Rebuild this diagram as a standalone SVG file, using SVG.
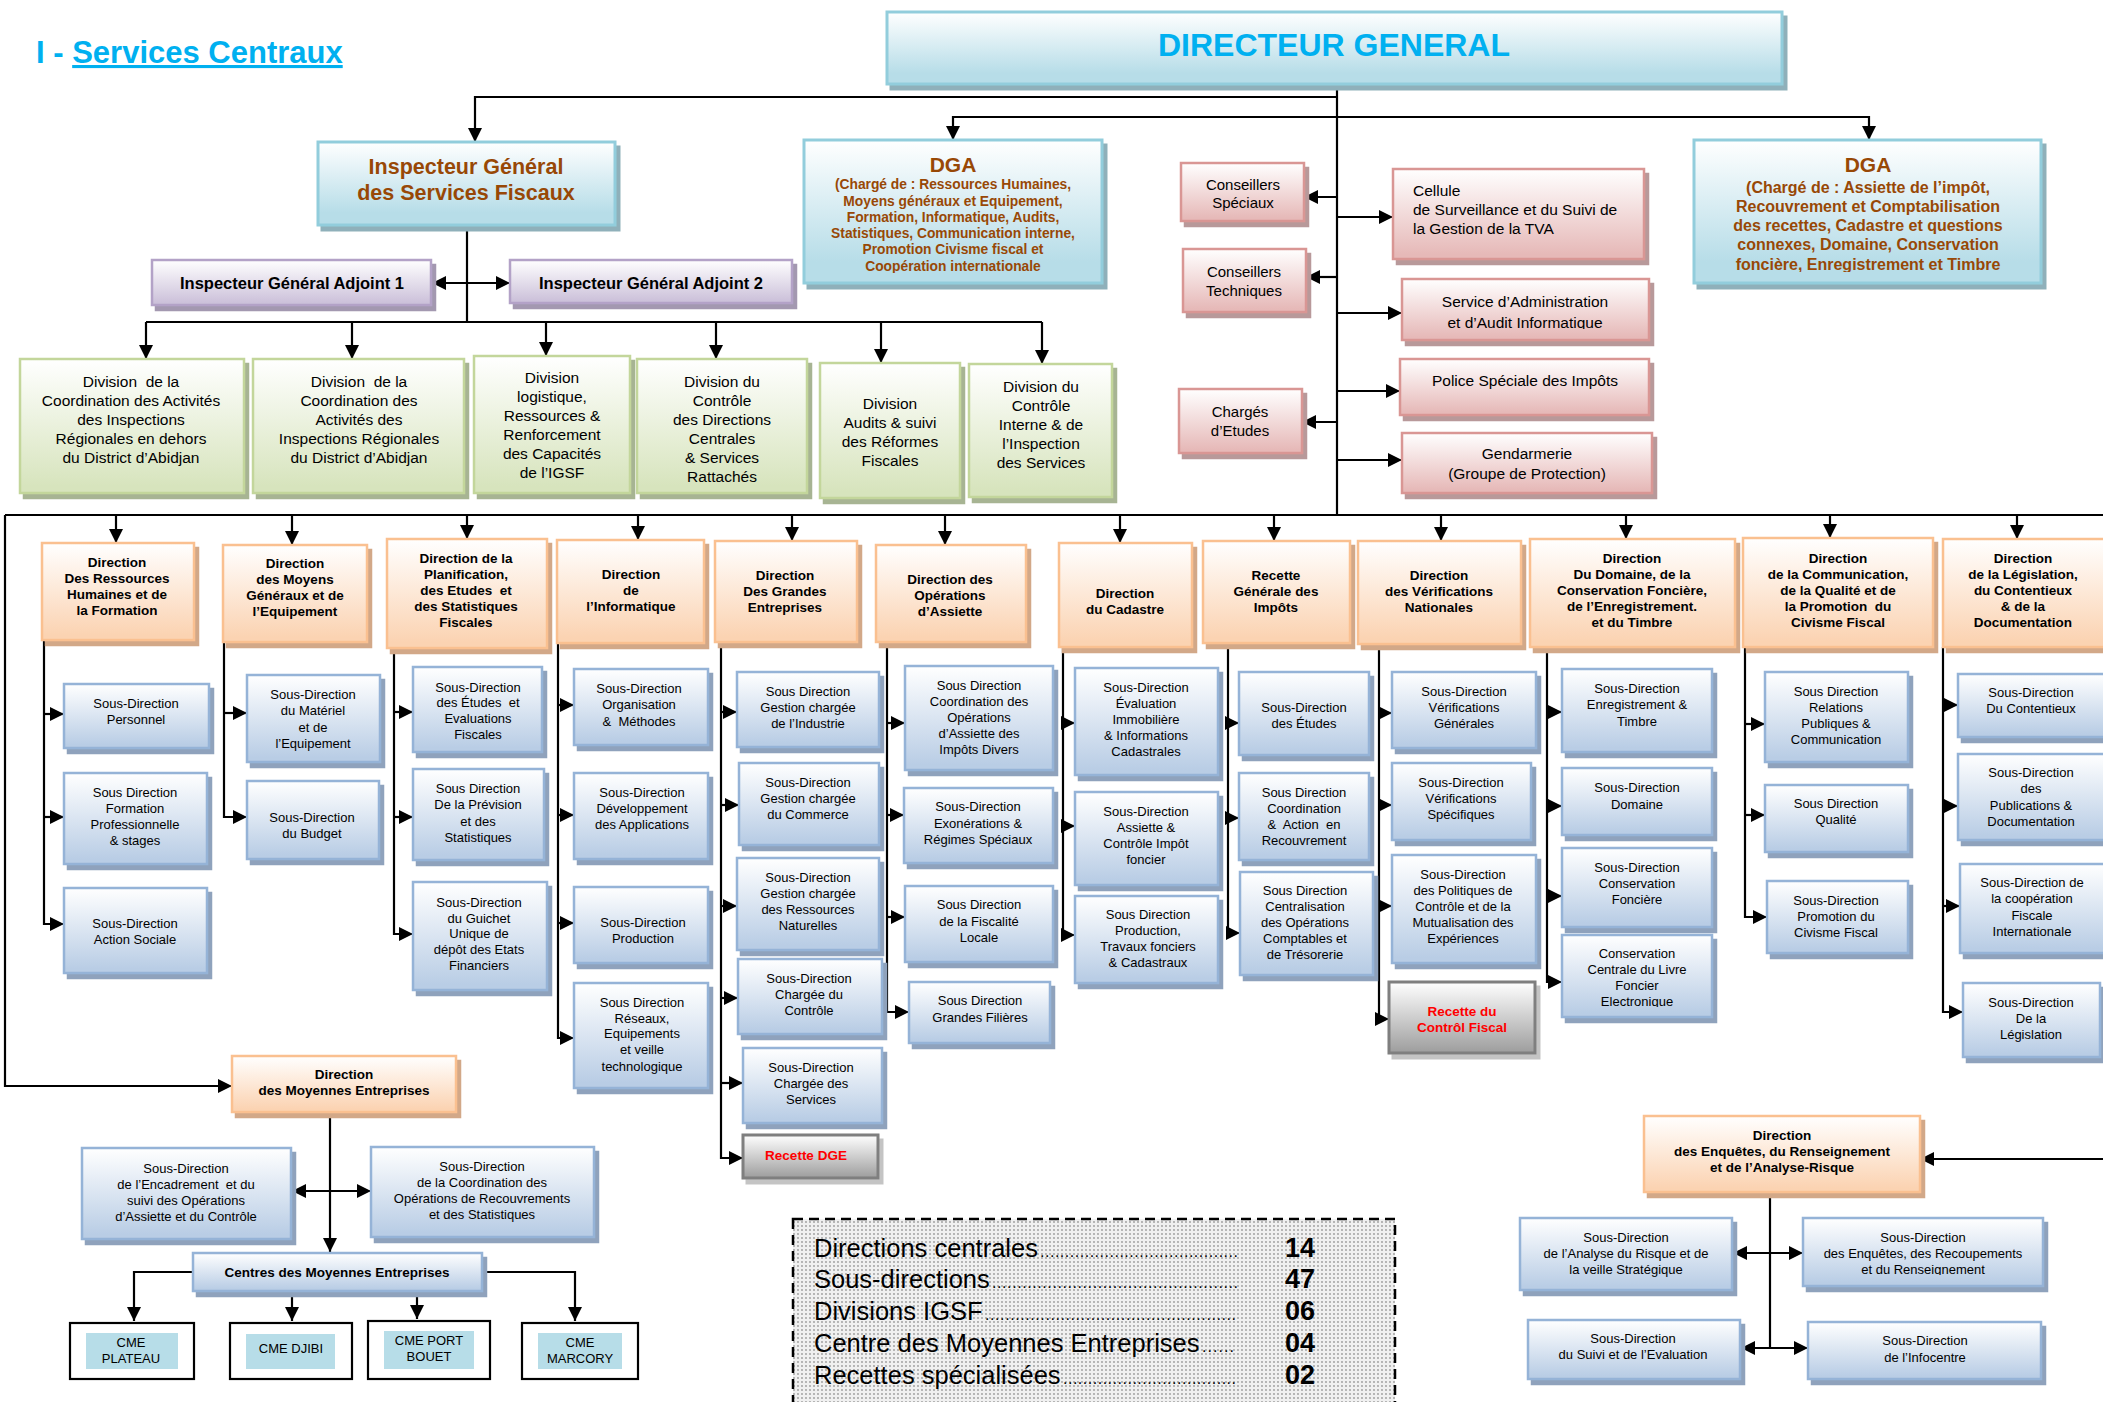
<svg xmlns="http://www.w3.org/2000/svg" width="2103" height="1402" viewBox="0 0 2103 1402">
<defs>
<linearGradient id="gB" x1="0" y1="0" x2="0" y2="1"><stop offset="0" stop-color="#ffffff"/><stop offset="0.95" stop-color="#b9cde5"/></linearGradient>
<linearGradient id="gO" x1="0" y1="0" x2="0" y2="1"><stop offset="0" stop-color="#ffffff"/><stop offset="0.95" stop-color="#fbd3b2"/></linearGradient>
<linearGradient id="gG" x1="0" y1="0" x2="0" y2="1"><stop offset="0" stop-color="#ffffff"/><stop offset="0.95" stop-color="#d7e4bd"/></linearGradient>
<linearGradient id="gP" x1="0" y1="0" x2="0" y2="1"><stop offset="0" stop-color="#ffffff"/><stop offset="0.95" stop-color="#e6b9b8"/></linearGradient>
<linearGradient id="gC" x1="0" y1="0" x2="0" y2="1"><stop offset="0" stop-color="#ffffff"/><stop offset="0.85" stop-color="#b7dde8"/></linearGradient>
<linearGradient id="gV" x1="0" y1="0" x2="0" y2="1"><stop offset="0" stop-color="#ffffff"/><stop offset="0.95" stop-color="#ccc1da"/></linearGradient>
<linearGradient id="gR" x1="0" y1="0" x2="0" y2="1"><stop offset="0" stop-color="#ffffff"/><stop offset="1" stop-color="#9d9d9d"/></linearGradient>
<filter id="fB" x="-0.1" y="-0.2" width="1.3" height="1.5"><feDropShadow dx="4" dy="5" stdDeviation="0.5" flood-color="#8fa2bc"/></filter>
<filter id="fO" x="-0.1" y="-0.2" width="1.3" height="1.5"><feDropShadow dx="4" dy="5" stdDeviation="0.5" flood-color="#d2a888"/></filter>
<filter id="fG" x="-0.1" y="-0.2" width="1.3" height="1.5"><feDropShadow dx="4" dy="5" stdDeviation="0.5" flood-color="#a7b493"/></filter>
<filter id="fP" x="-0.1" y="-0.2" width="1.3" height="1.5"><feDropShadow dx="4" dy="5" stdDeviation="0.5" flood-color="#b8999a"/></filter>
<filter id="fC" x="-0.1" y="-0.2" width="1.3" height="1.5"><feDropShadow dx="4" dy="5" stdDeviation="0.5" flood-color="#8fb0ba"/></filter>
<filter id="fV" x="-0.1" y="-0.2" width="1.3" height="1.5"><feDropShadow dx="4" dy="5" stdDeviation="0.5" flood-color="#a398b0"/></filter>
<filter id="fR" x="-0.1" y="-0.2" width="1.3" height="1.5"><feDropShadow dx="4" dy="5" stdDeviation="0.5" flood-color="#c4c4c4"/></filter>
<marker id="ah" viewBox="0 0 10 10" refX="10" refY="5" markerWidth="14" markerHeight="14" markerUnits="userSpaceOnUse" orient="auto-start-reverse"><path d="M0,0 L10,5 L0,10 z" fill="#000"/></marker>
<pattern id="dots" width="4" height="4" patternUnits="userSpaceOnUse"><rect width="4" height="4" fill="#f0f0f0"/><circle cx="2" cy="2" r="0.9" fill="#9a9a9a"/></pattern>
<clipPath id="k1"><rect x="0" y="0" width="2103" height="273"/></clipPath>
<clipPath id="k2"><rect x="0" y="0" width="2103" height="272"/></clipPath>
<clipPath id="k3"><rect x="0" y="0" width="2103" height="329"/></clipPath>
<clipPath id="k4"><rect x="0" y="0" width="2103" height="1007"/></clipPath>
<clipPath id="k5"><rect x="0" y="0" width="2103" height="1275"/></clipPath>
</defs>
<style>
text{font-family:"Liberation Sans",Arial,Helvetica,sans-serif;fill:#000}
.m{text-anchor:middle}
.s13{font-size:13px}
.s15{font-size:15px}
.dv{font-size:15.5px}
.hb{font-size:13.5px;font-weight:bold}
.br{fill:#984806;font-weight:bold}
.red{fill:#ff0000;font-weight:bold;font-size:13.5px}
.c{fill:none;stroke:#000;stroke-width:2.2}
.a{marker-end:url(#ah)}
.d{marker-start:url(#ah);marker-end:url(#ah)}
.bB{fill:url(#gB);stroke:#95b3d7;stroke-width:2.5;filter:url(#fB)}
.bO{fill:url(#gO);stroke:#fac090;stroke-width:2.5;filter:url(#fO)}
.bG{fill:url(#gG);stroke:#c3d69b;stroke-width:2.5;filter:url(#fG)}
.bP{fill:url(#gP);stroke:#d99694;stroke-width:2.5;filter:url(#fP)}
.bC{fill:url(#gC);stroke:#92cddc;stroke-width:3;filter:url(#fC)}
.bV{fill:url(#gV);stroke:#b3a2c7;stroke-width:2.5;filter:url(#fV)}
.bR{fill:url(#gR);stroke:#7f7f7f;stroke-width:3;filter:url(#fR)}
.bK{fill:#ffffff;stroke:#000;stroke-width:2.2}
.in{fill:#b7dde8}
.sum{font-size:25.5px}
.num{font-size:27px;font-weight:bold}
</style>
<rect width="2103" height="1402" fill="#ffffff"/>

<g id="title"><text x="36" y="63" style="font-size:31px;font-weight:bold;fill:#00b0f0">I - <tspan style="text-decoration:underline;fill:#00b0f0">Services Centraux</tspan></text></g>

<g id="connectors">
<path class="c" d="M1337,84 V515"/>
<path class="c a" d="M1337,97 H475 V142"/>
<path class="c a" d="M1337,117 H953 V140"/>
<path class="c a" d="M1337,117 H1869 V140"/>
<path class="c" d="M467,229 V322"/>
<path class="c d" d="M432,283 H510"/>
<path class="c" d="M146,322 H1042"/>
<path class="c a" d="M146,322 V359"/>
<path class="c a" d="M352,322 V359"/>
<path class="c a" d="M546,322 V356"/>
<path class="c a" d="M716,322 V359"/>
<path class="c a" d="M881,322 V363"/>
<path class="c a" d="M1042,322 V364"/>
<path class="c a" d="M1337,197 H1304"/>
<path class="c a" d="M1337,277 H1306"/>
<path class="c a" d="M1337,422 H1302"/>
<path class="c a" d="M1337,217 H1393"/>
<path class="c a" d="M1337,313 H1402"/>
<path class="c a" d="M1337,391 H1400"/>
<path class="c a" d="M1337,460 H1402"/>
<path class="c" d="M5,515 H2103"/>
<path class="c a" d="M5,515 V1086 H232"/>
<path class="c a" d="M116,515 V543"/>
<path class="c a" d="M292,515 V545"/>
<path class="c a" d="M467,515 V539"/>
<path class="c a" d="M638,515 V540"/>
<path class="c a" d="M792,515 V541"/>
<path class="c a" d="M945,515 V545"/>
<path class="c a" d="M1120,515 V543"/>
<path class="c a" d="M1274,515 V541"/>
<path class="c a" d="M1441,515 V541"/>
<path class="c a" d="M1626,515 V539"/>
<path class="c a" d="M1830,515 V538"/>
<path class="c a" d="M2017,515 V539"/>
<path class="c a" d="M44,640 V924 H64"/>
<path class="c a" d="M44,714 H64"/>
<path class="c a" d="M44,817 H64"/>
<path class="c a" d="M224,642 V817 H247"/>
<path class="c a" d="M224,713 H247"/>
<path class="c a" d="M394,648 V934 H413"/>
<path class="c a" d="M394,712 H413"/>
<path class="c a" d="M394,817 H413"/>
<path class="c a" d="M558,643 V1038 H574"/>
<path class="c a" d="M558,705 H574"/>
<path class="c a" d="M558,815 H574"/>
<path class="c a" d="M558,923 H574"/>
<path class="c a" d="M721,642 V1158 H743"/>
<path class="c a" d="M721,712 H737"/>
<path class="c a" d="M721,805 H739"/>
<path class="c a" d="M721,906 H737"/>
<path class="c a" d="M721,998 H738"/>
<path class="c a" d="M721,1083 H743"/>
<path class="c a" d="M887,642 V1012 H909"/>
<path class="c a" d="M887,723 H905"/>
<path class="c a" d="M887,815 H904"/>
<path class="c a" d="M887,917 H905"/>
<path class="c a" d="M1063,647 V935 H1075"/>
<path class="c a" d="M1063,723 H1075"/>
<path class="c a" d="M1063,826 H1075"/>
<path class="c a" d="M1228,643 V933 H1240"/>
<path class="c a" d="M1228,723 H1239"/>
<path class="c a" d="M1228,818 H1239"/>
<path class="c a" d="M1379,644 V1019 H1389"/>
<path class="c a" d="M1379,713 H1392"/>
<path class="c a" d="M1379,805 H1392"/>
<path class="c a" d="M1379,906 H1392"/>
<path class="c a" d="M1547,647 V982 H1562"/>
<path class="c a" d="M1547,712 H1562"/>
<path class="c a" d="M1547,806 H1562"/>
<path class="c a" d="M1547,896 H1562"/>
<path class="c a" d="M1745,647 V917 H1767"/>
<path class="c a" d="M1745,724 H1765"/>
<path class="c a" d="M1745,815 H1765"/>
<path class="c a" d="M1943,647 V1012 H1963"/>
<path class="c a" d="M1943,705 H1958"/>
<path class="c a" d="M1943,806 H1958"/>
<path class="c a" d="M1943,906 H1960"/>
<path class="c a" d="M330,1112 V1252"/>
<path class="c d" d="M292,1191 H371"/>
<path class="c a" d="M193,1272 H134 V1321"/>
<path class="c a" d="M292,1291 V1321"/>
<path class="c a" d="M417,1291 V1319"/>
<path class="c a" d="M482,1272 H575 V1321"/>
<path class="c a" d="M2103,1159 H1920"/>
<path class="c" d="M1770,1192 V1348"/>
<path class="c d" d="M1733,1253 H1803"/>
<path class="c d" d="M1741,1348 H1808"/>
</g>

<g id="dg"><rect class="bC" x="887" y="12" width="895" height="72"/><text class="m" x="1334" y="56" style="font-size:32px;font-weight:bold;fill:#00b0f0">DIRECTEUR GENERAL</text></g>

<g id="igsf"><rect class="bC" x="318" y="142" width="297" height="83"/><text class="m br" style="font-size:21.5px"><tspan x="466" y="174">Inspecteur Général</tspan><tspan x="466" y="200">des Services Fiscaux</tspan></text></g>

<g id="iga1"><rect class="bV" x="152" y="260" width="279" height="45"/><text class="m" x="292" y="289" style="font-size:16.5px;font-weight:bold">Inspecteur Général Adjoint 1</text></g>
<g id="iga2"><rect class="bV" x="510" y="260" width="282" height="43"/><text class="m" x="651" y="289" style="font-size:16.5px;font-weight:bold">Inspecteur Général Adjoint 2</text></g>

<g id="dga1"><rect class="bC" x="804" y="140" width="298" height="143"/><text class="m br" x="953" y="172" style="font-size:21px">DGA</text><text class="m br" style="font-size:13.8px" clip-path="url(#k1)"><tspan x="953" y="189">(Chargé de : Ressources Humaines,</tspan><tspan x="953" y="206">Moyens généraux et Equipement,</tspan><tspan x="953" y="222">Formation, Informatique, Audits,</tspan><tspan x="953" y="238">Statistiques, Communication interne,</tspan><tspan x="953" y="254">Promotion Civisme fiscal et</tspan><tspan x="953" y="271">Coopération internationale</tspan></text></g>

<g id="dga2"><rect class="bC" x="1694" y="140" width="347" height="143"/><text class="m br" x="1868" y="172" style="font-size:21px">DGA</text><text class="m br" style="font-size:16px" clip-path="url(#k2)"><tspan x="1868" y="193">(Chargé de : Assiette de l’impôt,</tspan><tspan x="1868" y="212">Recouvrement et Comptabilisation</tspan><tspan x="1868" y="231">des recettes, Cadastre et questions</tspan><tspan x="1868" y="250">connexes, Domaine, Conservation</tspan><tspan x="1868" y="270">foncière, Enregistrement et Timbre</tspan></text></g>

<g id="cons-spec"><rect class="bP" x="1181" y="163" width="123" height="58"/><text class="m s15"><tspan x="1243" y="190">Conseillers</tspan><tspan x="1243" y="208">Spéciaux</tspan></text></g>
<g id="cons-tech"><rect class="bP" x="1183" y="249" width="123" height="63"/><text class="m s15"><tspan x="1244" y="277">Conseillers</tspan><tspan x="1244" y="296">Techniques</tspan></text></g>
<g id="charges"><rect class="bP" x="1179" y="389" width="123" height="64"/><text class="m s15"><tspan x="1240" y="417">Chargés</tspan><tspan x="1240" y="436">d’Etudes</tspan></text></g>
<g id="cellule"><rect class="bP" x="1393" y="169" width="251" height="90"/><text style="font-size:15.5px"><tspan x="1413" y="196">Cellule</tspan><tspan x="1413" y="215">de Surveillance et du Suivi de</tspan><tspan x="1413" y="234">la Gestion de la TVA</tspan></text></g>
<g id="saai"><rect class="bP" x="1402" y="279" width="247" height="61"/><text class="m" style="font-size:15.5px" clip-path="url(#k3)"><tspan x="1525" y="307">Service d’Administration</tspan><tspan x="1525" y="328">et d’Audit Informatique</tspan></text></g>
<g id="police"><rect class="bP" x="1400" y="359" width="249" height="56"/><text class="m" x="1525" y="386" style="font-size:15.5px">Police Spéciale des Impôts</text></g>
<g id="gendarmerie"><rect class="bP" x="1402" y="433" width="250" height="60"/><text class="m" style="font-size:15.5px"><tspan x="1527" y="459">Gendarmerie</tspan><tspan x="1527" y="479">(Groupe de Protection)</tspan></text></g>

<g id="div1"><rect class="bG" x="20" y="359" width="224" height="134"/><text class="m dv"><tspan x="131" y="387">Division&#160; de la</tspan><tspan x="131" y="406">Coordination des Activités</tspan><tspan x="131" y="425">des Inspections</tspan><tspan x="131" y="444">Régionales en dehors</tspan><tspan x="131" y="463">du District d’Abidjan</tspan></text></g>
<g id="div2"><rect class="bG" x="253" y="359" width="211" height="134"/><text class="m dv"><tspan x="359" y="387">Division&#160; de la</tspan><tspan x="359" y="406">Coordination des</tspan><tspan x="359" y="425">Activités des</tspan><tspan x="359" y="444">Inspections Régionales</tspan><tspan x="359" y="463">du District d’Abidjan</tspan></text></g>
<g id="div3"><rect class="bG" x="474" y="356" width="156" height="137"/><text class="m dv"><tspan x="552" y="383">Division</tspan><tspan x="552" y="402">logistique,</tspan><tspan x="552" y="421">Ressources &amp;</tspan><tspan x="552" y="440">Renforcement</tspan><tspan x="552" y="459">des Capacités</tspan><tspan x="552" y="478">de l’IGSF</tspan></text></g>
<g id="div4"><rect class="bG" x="637" y="359" width="170" height="134"/><text class="m dv"><tspan x="722" y="387">Division du</tspan><tspan x="722" y="406">Contrôle</tspan><tspan x="722" y="425">des Directions</tspan><tspan x="722" y="444">Centrales</tspan><tspan x="722" y="463">&amp; Services</tspan><tspan x="722" y="482">Rattachés</tspan></text></g>
<g id="div5"><rect class="bG" x="820" y="363" width="140" height="135"/><text class="m dv"><tspan x="890" y="409">Division</tspan><tspan x="890" y="428">Audits &amp; suivi</tspan><tspan x="890" y="447">des Réformes</tspan><tspan x="890" y="466">Fiscales</tspan></text></g>
<g id="div6"><rect class="bG" x="969" y="364" width="143" height="133"/><text class="m dv"><tspan x="1041" y="392">Division du</tspan><tspan x="1041" y="411">Contrôle</tspan><tspan x="1041" y="430">Interne &amp; de</tspan><tspan x="1041" y="449">l’Inspection</tspan><tspan x="1041" y="468">des Services</tspan></text></g>

<g id="d1"><rect class="bO" x="42" y="543" width="152" height="97"/><text class="m hb"><tspan x="117" y="567">Direction</tspan><tspan x="117" y="583">Des Ressources</tspan><tspan x="117" y="599">Humaines et de</tspan><tspan x="117" y="615">la Formation</tspan></text></g>
<g id="d2"><rect class="bO" x="223" y="545" width="144" height="97"/><text class="m hb"><tspan x="295" y="568">Direction</tspan><tspan x="295" y="584">des Moyens</tspan><tspan x="295" y="600">Généraux et de</tspan><tspan x="295" y="616">l’Equipement</tspan></text></g>
<g id="d3"><rect class="bO" x="387" y="539" width="160" height="109"/><text class="m hb"><tspan x="466" y="563">Direction de la</tspan><tspan x="466" y="579">Planification,</tspan><tspan x="466" y="595">des Etudes&#160; et</tspan><tspan x="466" y="611">des Statistiques</tspan><tspan x="466" y="627">Fiscales</tspan></text></g>
<g id="d4"><rect class="bO" x="557" y="540" width="147" height="103"/><text class="m hb"><tspan x="631" y="579">Direction</tspan><tspan x="631" y="595">de</tspan><tspan x="631" y="611">l’Informatique</tspan></text></g>
<g id="d5"><rect class="bO" x="715" y="541" width="142" height="101"/><text class="m hb"><tspan x="785" y="580">Direction</tspan><tspan x="785" y="596">Des Grandes</tspan><tspan x="785" y="612">Entreprises</tspan></text></g>
<g id="d6"><rect class="bO" x="876" y="545" width="150" height="97"/><text class="m hb"><tspan x="950" y="584">Direction des</tspan><tspan x="950" y="600">Opérations</tspan><tspan x="950" y="616">d’Assiette</tspan></text></g>
<g id="d7"><rect class="bO" x="1059" y="543" width="133" height="104"/><text class="m hb"><tspan x="1125" y="598">Direction</tspan><tspan x="1125" y="614">du Cadastre</tspan></text></g>
<g id="d8"><rect class="bO" x="1203" y="541" width="147" height="102"/><text class="m hb"><tspan x="1276" y="580">Recette</tspan><tspan x="1276" y="596">Générale des</tspan><tspan x="1276" y="612">Impôts</tspan></text></g>
<g id="d9"><rect class="bO" x="1358" y="541" width="163" height="103"/><text class="m hb"><tspan x="1439" y="580">Direction</tspan><tspan x="1439" y="596">des Vérifications</tspan><tspan x="1439" y="612">Nationales</tspan></text></g>
<g id="d10"><rect class="bO" x="1530" y="539" width="205" height="108"/><text class="m hb"><tspan x="1632" y="563">Direction</tspan><tspan x="1632" y="579">Du Domaine, de la</tspan><tspan x="1632" y="595">Conservation Foncière,</tspan><tspan x="1632" y="611">de l’Enregistrement.</tspan><tspan x="1632" y="627">et du Timbre</tspan></text></g>
<g id="d11"><rect class="bO" x="1743" y="538" width="190" height="109"/><text class="m hb"><tspan x="1838" y="563">Direction</tspan><tspan x="1838" y="579">de la Communication,</tspan><tspan x="1838" y="595">de la Qualité et de</tspan><tspan x="1838" y="611">la Promotion&#160; du</tspan><tspan x="1838" y="627">Civisme Fiscal</tspan></text></g>
<g id="d12"><rect class="bO" x="1943" y="539" width="172" height="108"/><text class="m hb"><tspan x="2023" y="563">Direction</tspan><tspan x="2023" y="579">de la Législation,</tspan><tspan x="2023" y="595">du Contentieux</tspan><tspan x="2023" y="611">&amp; de la</tspan><tspan x="2023" y="627">Documentation</tspan></text></g>

<g id="sd1a"><rect class="bB" x="64" y="684" width="145" height="64"/><text class="m s13"><tspan x="136" y="708">Sous-Direction</tspan><tspan x="136" y="724">Personnel</tspan></text></g>
<g id="sd1b"><rect class="bB" x="64" y="773" width="143" height="91"/><text class="m s13"><tspan x="135" y="797">Sous Direction</tspan><tspan x="135" y="813">Formation</tspan><tspan x="135" y="829">Professionnelle</tspan><tspan x="135" y="845">&amp; stages</tspan></text></g>
<g id="sd1c"><rect class="bB" x="64" y="888" width="143" height="85"/><text class="m s13"><tspan x="135" y="928">Sous-Direction</tspan><tspan x="135" y="944">Action Sociale</tspan></text></g>

<g id="sd2a"><rect class="bB" x="247" y="675" width="133" height="87"/><text class="m s13"><tspan x="313" y="699">Sous-Direction</tspan><tspan x="313" y="715">du Matériel</tspan><tspan x="313" y="732">et de</tspan><tspan x="313" y="748">l’Equipement</tspan></text></g>
<g id="sd2b"><rect class="bB" x="247" y="781" width="132" height="78"/><text class="m s13"><tspan x="312" y="822">Sous-Direction</tspan><tspan x="312" y="838">du Budget</tspan></text></g>

<g id="sd3a"><rect class="bB" x="413" y="667" width="129" height="85"/><text class="m s13"><tspan x="478" y="692">Sous-Direction</tspan><tspan x="478" y="707">des Études&#160; et</tspan><tspan x="478" y="723">Evaluations</tspan><tspan x="478" y="739">Fiscales</tspan></text></g>
<g id="sd3b"><rect class="bB" x="413" y="769" width="131" height="91"/><text class="m s13"><tspan x="478" y="793">Sous Direction</tspan><tspan x="478" y="809">De la Prévision</tspan><tspan x="478" y="826">et des</tspan><tspan x="478" y="842">Statistiques</tspan></text></g>
<g id="sd3c"><rect class="bB" x="413" y="882" width="134" height="108"/><text class="m s13"><tspan x="479" y="907">Sous-Direction</tspan><tspan x="479" y="923">du Guichet</tspan><tspan x="479" y="938">Unique de</tspan><tspan x="479" y="954">dépôt des Etats</tspan><tspan x="479" y="970">Financiers</tspan></text></g>

<g id="sd4a"><rect class="bB" x="574" y="669" width="134" height="76"/><text class="m s13"><tspan x="639" y="693">Sous-Direction</tspan><tspan x="639" y="709">Organisation</tspan><tspan x="639" y="726">&amp;&#160; Méthodes</tspan></text></g>
<g id="sd4b"><rect class="bB" x="574" y="773" width="134" height="86"/><text class="m s13"><tspan x="642" y="797">Sous-Direction</tspan><tspan x="642" y="813">Développement</tspan><tspan x="642" y="829">des Applications</tspan></text></g>
<g id="sd4c"><rect class="bB" x="574" y="887" width="134" height="76"/><text class="m s13"><tspan x="643" y="927">Sous-Direction</tspan><tspan x="643" y="943">Production</tspan></text></g>
<g id="sd4d"><rect class="bB" x="574" y="983" width="134" height="105"/><text class="m s13"><tspan x="642" y="1007">Sous Direction</tspan><tspan x="642" y="1023">Réseaux,</tspan><tspan x="642" y="1038">Equipements</tspan><tspan x="642" y="1054">et veille</tspan><tspan x="642" y="1071">technologique</tspan></text></g>

<g id="sd5a"><rect class="bB" x="737" y="672" width="142" height="75"/><text class="m s13"><tspan x="808" y="696">Sous Direction</tspan><tspan x="808" y="712">Gestion chargée</tspan><tspan x="808" y="728">de l’Industrie</tspan></text></g>
<g id="sd5b"><rect class="bB" x="739" y="763" width="140" height="82"/><text class="m s13"><tspan x="808" y="787">Sous-Direction</tspan><tspan x="808" y="803">Gestion chargée</tspan><tspan x="808" y="819">du Commerce</tspan></text></g>
<g id="sd5c"><rect class="bB" x="737" y="858" width="142" height="92"/><text class="m s13"><tspan x="808" y="882">Sous-Direction</tspan><tspan x="808" y="898">Gestion chargée</tspan><tspan x="808" y="914">des Ressources</tspan><tspan x="808" y="930">Naturelles</tspan></text></g>
<g id="sd5d"><rect class="bB" x="738" y="959" width="144" height="75"/><text class="m s13"><tspan x="809" y="983">Sous-Direction</tspan><tspan x="809" y="999">Chargée du</tspan><tspan x="809" y="1015">Contrôle</tspan></text></g>
<g id="sd5e"><rect class="bB" x="743" y="1048" width="139" height="75"/><text class="m s13"><tspan x="811" y="1072">Sous-Direction</tspan><tspan x="811" y="1088">Chargée des</tspan><tspan x="811" y="1104">Services</tspan></text></g>
<g id="recette-dge"><rect class="bR" x="743" y="1135" width="135" height="43"/><text class="m red" x="806" y="1160">Recette DGE</text></g>

<g id="sd6a"><rect class="bB" x="905" y="666" width="148" height="104"/><text class="m s13"><tspan x="979" y="690">Sous Direction</tspan><tspan x="979" y="706">Coordination des</tspan><tspan x="979" y="722">Opérations</tspan><tspan x="979" y="738">d’Assiette des</tspan><tspan x="979" y="754">Impôts Divers</tspan></text></g>
<g id="sd6b"><rect class="bB" x="904" y="788" width="149" height="75"/><text class="m s13"><tspan x="978" y="811">Sous-Direction</tspan><tspan x="978" y="828">Exonérations &amp;</tspan><tspan x="978" y="844">Régimes Spéciaux</tspan></text></g>
<g id="sd6c"><rect class="bB" x="905" y="886" width="148" height="76"/><text class="m s13"><tspan x="979" y="909">Sous Direction</tspan><tspan x="979" y="926">de la Fiscalité</tspan><tspan x="979" y="942">Locale</tspan></text></g>
<g id="sd6d"><rect class="bB" x="909" y="982" width="141" height="61"/><text class="m s13"><tspan x="980" y="1005">Sous Direction</tspan><tspan x="980" y="1022">Grandes Filières</tspan></text></g>

<g id="sd7a"><rect class="bB" x="1075" y="668" width="143" height="107"/><text class="m s13"><tspan x="1146" y="692">Sous-Direction</tspan><tspan x="1146" y="708">Évaluation</tspan><tspan x="1146" y="724">Immobilière</tspan><tspan x="1146" y="740">&amp; Informations</tspan><tspan x="1146" y="756">Cadastrales</tspan></text></g>
<g id="sd7b"><rect class="bB" x="1075" y="792" width="143" height="93"/><text class="m s13"><tspan x="1146" y="816">Sous-Direction</tspan><tspan x="1146" y="832">Assiette &amp;</tspan><tspan x="1146" y="848">Contrôle Impôt</tspan><tspan x="1146" y="864">foncier</tspan></text></g>
<g id="sd7c"><rect class="bB" x="1075" y="896" width="143" height="87"/><text class="m s13"><tspan x="1148" y="919">Sous Direction</tspan><tspan x="1148" y="935">Production,</tspan><tspan x="1148" y="951">Travaux fonciers</tspan><tspan x="1148" y="967">&amp; Cadastraux</tspan></text></g>

<g id="sd8a"><rect class="bB" x="1239" y="672" width="130" height="83"/><text class="m s13"><tspan x="1304" y="712">Sous-Direction</tspan><tspan x="1304" y="728">des Études</tspan></text></g>
<g id="sd8b"><rect class="bB" x="1239" y="773" width="130" height="87"/><text class="m s13"><tspan x="1304" y="797">Sous Direction</tspan><tspan x="1304" y="813">Coordination</tspan><tspan x="1304" y="829">&amp;&#160; Action&#160; en</tspan><tspan x="1304" y="845">Recouvrement</tspan></text></g>
<g id="sd8c"><rect class="bB" x="1240" y="872" width="133" height="103"/><text class="m s13"><tspan x="1305" y="895">Sous Direction</tspan><tspan x="1305" y="911">Centralisation</tspan><tspan x="1305" y="927">des Opérations</tspan><tspan x="1305" y="943">Comptables et</tspan><tspan x="1305" y="959">de Trésorerie</tspan></text></g>

<g id="sd9a"><rect class="bB" x="1392" y="672" width="144" height="76"/><text class="m s13"><tspan x="1464" y="696">Sous-Direction</tspan><tspan x="1464" y="712">Vérifications</tspan><tspan x="1464" y="728">Générales</tspan></text></g>
<g id="sd9b"><rect class="bB" x="1392" y="763" width="139" height="77"/><text class="m s13"><tspan x="1461" y="787">Sous-Direction</tspan><tspan x="1461" y="803">Vérifications</tspan><tspan x="1461" y="819">Spécifiques</tspan></text></g>
<g id="sd9c"><rect class="bB" x="1392" y="855" width="144" height="108"/><text class="m s13"><tspan x="1463" y="879">Sous-Direction</tspan><tspan x="1463" y="895">des Politiques de</tspan><tspan x="1463" y="911">Contrôle et de la</tspan><tspan x="1463" y="927">Mutualisation des</tspan><tspan x="1463" y="943">Expériences</tspan></text></g>
<g id="recette-cf"><rect class="bR" x="1389" y="982" width="146" height="71"/><text class="m red"><tspan x="1462" y="1016">Recette du</tspan><tspan x="1462" y="1032">Contrôl Fiscal</tspan></text></g>

<g id="sd10a"><rect class="bB" x="1562" y="669" width="150" height="83"/><text class="m s13"><tspan x="1637" y="693">Sous-Direction</tspan><tspan x="1637" y="709">Enregistrement &amp;</tspan><tspan x="1637" y="726">Timbre</tspan></text></g>
<g id="sd10b"><rect class="bB" x="1562" y="768" width="150" height="67"/><text class="m s13"><tspan x="1637" y="792">Sous-Direction</tspan><tspan x="1637" y="809">Domaine</tspan></text></g>
<g id="sd10c"><rect class="bB" x="1562" y="848" width="150" height="79"/><text class="m s13"><tspan x="1637" y="872">Sous-Direction</tspan><tspan x="1637" y="888">Conservation</tspan><tspan x="1637" y="904">Foncière</tspan></text></g>
<g id="sd10d"><rect class="bB" x="1562" y="935" width="150" height="82"/><text class="m s13" clip-path="url(#k4)"><tspan x="1637" y="958">Conservation</tspan><tspan x="1637" y="974">Centrale du Livre</tspan><tspan x="1637" y="990">Foncier</tspan><tspan x="1637" y="1006">Electronique</tspan></text></g>

<g id="sd11a"><rect class="bB" x="1765" y="672" width="143" height="90"/><text class="m s13"><tspan x="1836" y="696">Sous Direction</tspan><tspan x="1836" y="712">Relations</tspan><tspan x="1836" y="728">Publiques &amp;</tspan><tspan x="1836" y="744">Communication</tspan></text></g>
<g id="sd11b"><rect class="bB" x="1765" y="785" width="143" height="67"/><text class="m s13"><tspan x="1836" y="808">Sous Direction</tspan><tspan x="1836" y="824">Qualité</tspan></text></g>
<g id="sd11c"><rect class="bB" x="1767" y="881" width="141" height="72"/><text class="m s13"><tspan x="1836" y="905">Sous-Direction</tspan><tspan x="1836" y="921">Promotion du</tspan><tspan x="1836" y="937">Civisme Fiscal</tspan></text></g>

<g id="sd12a"><rect class="bB" x="1958" y="674" width="147" height="63"/><text class="m s13"><tspan x="2031" y="697">Sous-Direction</tspan><tspan x="2031" y="713">Du Contentieux</tspan></text></g>
<g id="sd12b"><rect class="bB" x="1958" y="754" width="147" height="86"/><text class="m s13"><tspan x="2031" y="777">Sous-Direction</tspan><tspan x="2031" y="793">des</tspan><tspan x="2031" y="810">Publications &amp;</tspan><tspan x="2031" y="826">Documentation</tspan></text></g>
<g id="sd12c"><rect class="bB" x="1960" y="864" width="145" height="89"/><text class="m s13"><tspan x="2032" y="887">Sous-Direction de</tspan><tspan x="2032" y="903">la coopération</tspan><tspan x="2032" y="920">Fiscale</tspan><tspan x="2032" y="936">Internationale</tspan></text></g>
<g id="sd12d"><rect class="bB" x="1963" y="983" width="137" height="74"/><text class="m s13"><tspan x="2031" y="1007">Sous-Direction</tspan><tspan x="2031" y="1023">De la</tspan><tspan x="2031" y="1039">Législation</tspan></text></g>

<g id="dme"><rect class="bO" x="232" y="1056" width="224" height="56"/><text class="m hb"><tspan x="344" y="1079">Direction</tspan><tspan x="344" y="1095">des Moyennes Entreprises</tspan></text></g>
<g id="sde1"><rect class="bB" x="82" y="1148" width="209" height="91"/><text class="m s13"><tspan x="186" y="1173">Sous-Direction</tspan><tspan x="186" y="1189">de l’Encadrement&#160; et du</tspan><tspan x="186" y="1205">suivi des Opérations</tspan><tspan x="186" y="1221">d’Assiette et du Contrôle</tspan></text></g>
<g id="sde2"><rect class="bB" x="371" y="1147" width="223" height="90"/><text class="m s13"><tspan x="482" y="1171">Sous-Direction</tspan><tspan x="482" y="1187">de la Coordination des</tspan><tspan x="482" y="1203">Opérations de Recouvrements</tspan><tspan x="482" y="1219">et des Statistiques</tspan></text></g>
<g id="centres"><rect class="bB" x="193" y="1253" width="289" height="38"/><text class="m hb" x="337" y="1277">Centres des Moyennes Entreprises</text></g>
<g id="cme-plateau"><rect class="bK" x="70" y="1323" width="124" height="56"/><rect class="in" x="86" y="1333" width="92" height="36"/><text class="m s13"><tspan x="131" y="1347">CME</tspan><tspan x="131" y="1363">PLATEAU</tspan></text></g>
<g id="cme-djibi"><rect class="bK" x="230" y="1323" width="122" height="56"/><rect class="in" x="246" y="1334" width="89" height="35"/><text class="m s13" x="291" y="1353">CME DJIBI</text></g>
<g id="cme-port-bouet"><rect class="bK" x="368" y="1321" width="122" height="58"/><rect class="in" x="384" y="1331" width="90" height="38"/><text class="m s13"><tspan x="429" y="1345">CME PORT</tspan><tspan x="429" y="1361">BOUET</tspan></text></g>
<g id="cme-marcory"><rect class="bK" x="522" y="1323" width="116" height="56"/><rect class="in" x="538" y="1333" width="84" height="36"/><text class="m s13"><tspan x="580" y="1347">CME</tspan><tspan x="580" y="1363">MARCORY</tspan></text></g>

<g id="summary">
<rect x="793" y="1219" width="602" height="195" fill="url(#dots)" stroke="#000" stroke-width="2.5" stroke-dasharray="10,6"/>
<text class="sum" x="814" y="1257">Directions centrales</text><text x="1040" y="1257" style="font-size:16px" textLength="198" lengthAdjust="spacing">........................................</text><text class="num" x="1285" y="1257">14</text>
<text class="sum" x="814" y="1288">Sous-directions</text><text x="992" y="1288" style="font-size:16px" textLength="246" lengthAdjust="spacing">.................................................</text><text class="num" x="1285" y="1288">47</text>
<text class="sum" x="814" y="1320">Divisions IGSF</text><text x="985" y="1320" style="font-size:16px" textLength="251" lengthAdjust="spacing">..................................................</text><text class="num" x="1285" y="1320">06</text>
<text class="sum" x="814" y="1352">Centre des Moyennes Entreprises</text><text x="1202" y="1352" style="font-size:16px" textLength="32" lengthAdjust="spacing">......</text><text class="num" x="1285" y="1352">04</text>
<text class="sum" x="814" y="1384">Recettes spécialisées</text><text x="1063" y="1384" style="font-size:16px" textLength="173" lengthAdjust="spacing">...................................</text><text class="num" x="1285" y="1384">02</text>
</g>

<g id="den"><rect class="bO" x="1644" y="1116" width="276" height="76"/><text class="m hb"><tspan x="1782" y="1140">Direction</tspan><tspan x="1782" y="1156">des Enquêtes, du Renseignement</tspan><tspan x="1782" y="1172">et de l’Analyse-Risque</tspan></text></g>
<g id="sdn1"><rect class="bB" x="1520" y="1218" width="212" height="72"/><text class="m s13"><tspan x="1626" y="1242">Sous-Direction</tspan><tspan x="1626" y="1258">de l’Analyse du Risque et de</tspan><tspan x="1626" y="1274">la veille Stratégique</tspan></text></g>
<g id="sdn2"><rect class="bB" x="1803" y="1218" width="240" height="68"/><text class="m s13" clip-path="url(#k5)"><tspan x="1923" y="1242">Sous-Direction</tspan><tspan x="1923" y="1258">des Enquêtes, des Recoupements</tspan><tspan x="1923" y="1274">et du Renseignement</tspan></text></g>
<g id="sdn3"><rect class="bB" x="1528" y="1320" width="212" height="59"/><text class="m s13"><tspan x="1633" y="1343">Sous-Direction</tspan><tspan x="1633" y="1359">du Suivi et de l’Evaluation</tspan></text></g>
<g id="sdn4"><rect class="bB" x="1808" y="1322" width="233" height="57"/><text class="m s13"><tspan x="1925" y="1345">Sous-Direction</tspan><tspan x="1925" y="1362">de l’Infocentre</tspan></text></g>
</svg>
